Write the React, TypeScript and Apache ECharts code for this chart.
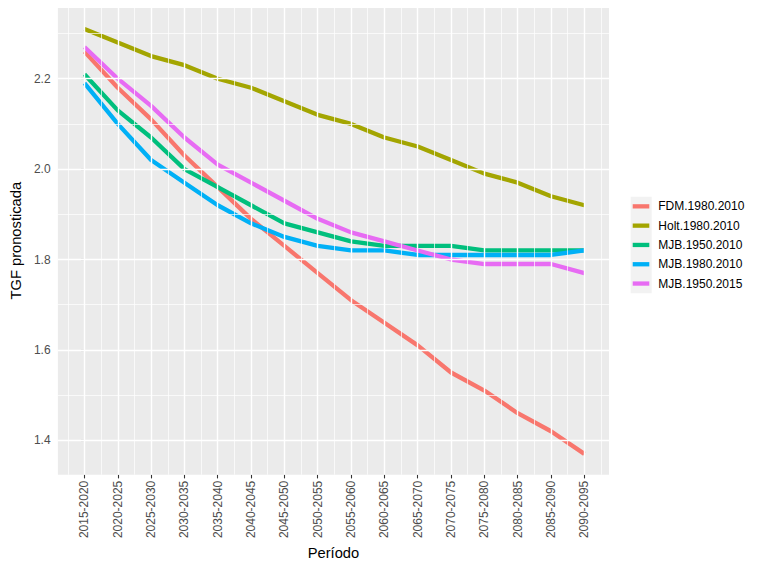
import React, { useEffect, useRef } from "react";
import * as echarts from "echarts";

const periods = [
  "2015-2020", "2020-2025", "2025-2030", "2030-2035", "2035-2040", "2040-2045",
  "2045-2050", "2050-2055", "2055-2060", "2060-2065", "2065-2070", "2070-2075",
  "2075-2080", "2080-2085", "2085-2090", "2090-2095",
];

const seriesNames = ["FDM.1980.2010", "Holt.1980.2010", "MJB.1950.2010", "MJB.1980.2010", "MJB.1950.2015"];
const seriesColors = ["#F8766D", "#A3A500", "#00BF7D", "#00B0F6", "#E76BF3"];

const fdm19802010 = [2.26, 2.18, 2.11, 2.03, 1.96, 1.89, 1.83, 1.77, 1.71, 1.66, 1.61, 1.55, 1.51, 1.46, 1.42, 1.37];
const holt19802010 = [2.31, 2.28, 2.25, 2.23, 2.20, 2.18, 2.15, 2.12, 2.10, 2.07, 2.05, 2.02, 1.99, 1.97, 1.94, 1.92];
const mjb19502010 = [2.21, 2.13, 2.07, 2.00, 1.96, 1.92, 1.88, 1.86, 1.84, 1.83, 1.83, 1.83, 1.82, 1.82, 1.82, 1.82];
const mjb19802010 = [2.19, 2.10, 2.02, 1.97, 1.92, 1.88, 1.85, 1.83, 1.82, 1.82, 1.81, 1.81, 1.81, 1.81, 1.81, 1.82];
const mjb19502015 = [2.27, 2.20, 2.14, 2.07, 2.01, 1.97, 1.93, 1.89, 1.86, 1.84, 1.82, 1.80, 1.79, 1.79, 1.79, 1.77];

const allValues = [fdm19802010, holt19802010, mjb19502010, mjb19802010, mjb19502015];

const yTicks = [1.4, 1.6, 1.8, 2.0, 2.2];
const yMinorGrid = [1.5, 1.7, 1.9, 2.1, 2.3];

const FONT = "'Liberation Sans', Arial, sans-serif";

export default function App() {
  const ref = useRef<HTMLDivElement>(null);

  useEffect(() => {
    if (!ref.current) return;
    const chart = echarts.init(ref.current, null, { renderer: "svg" });

    const xIdx = periods.map((_, i) => i);
    const xMinor = periods.slice(0, periods.length + 1).map((_, i) => i - 0.5).concat([periods.length - 0.5]);

    const gridLineSeries = {
      type: "line",
      data: [],
      z: 1,
      silent: true,
      markLine: {
        silent: true,
        symbol: ["none", "none"],
        label: { show: false },
        animation: false,
        data: [
          ...xMinor.map((v) => ({ xAxis: v, lineStyle: { color: "#FFFFFF", width: 0.7, type: "solid" } })),
          ...xIdx.map((v) => ({ xAxis: v, lineStyle: { color: "#FFFFFF", width: 1.4, type: "solid" } })),
          ...yMinorGrid.map((v) => ({ yAxis: v, lineStyle: { color: "#FFFFFF", width: 0.7, type: "solid" } })),
          ...yTicks.map((v) => ({ yAxis: v, lineStyle: { color: "#FFFFFF", width: 1.4, type: "solid" } })),
        ],
      },
    };

    const dataSeries = seriesNames.map((name, s) => ({
      name,
      type: "line",
      z: 3,
      data: allValues[s].map((v, i) => [i, v]),
      showSymbol: false,
      symbol: "none",
      lineStyle: { color: seriesColors[s], width: 4.3, cap: "butt", join: "round" },
      itemStyle: { color: seriesColors[s] },
    }));

    chart.setOption({
      animation: false,
      textStyle: { fontFamily: FONT },
      grid: {
        left: 49,
        right: 151,
        top: 6.7,
        bottom: 93.3,
        show: true,
        backgroundColor: "#EBEBEB",
        borderWidth: 0,
      },
      graphic: [
        {
          type: "rect",
          shape: { x: 630.7, y: 196.7, width: 21, height: 96.5 },
          style: { fill: "#F2F2F2" },
          z: 0,
        },
      ],
      legend: {
        orient: "vertical",
        left: 632.7,
        top: 196.7,
        padding: 0,
        itemGap: 0,
        itemWidth: 16.6,
        itemHeight: 4.3,
        icon: "rect",
        data: seriesNames.map((n) => ({ name: n, icon: "rect" })),
        textStyle: {
          fontFamily: FONT,
          fontSize: 12,
          color: "#000000",
          lineHeight: 19.3,
          padding: [0, 0, 0, 4],
        },
      },
      xAxis: {
        type: "value",
        min: -0.797,
        max: 15.74,
        name: "Período",
        nameLocation: "middle",
        nameGap: 67,
        nameTextStyle: { fontFamily: FONT, fontSize: 14.7, color: "#000000" },
        axisLine: { show: false },
        splitLine: { show: false },
        axisTick: {
          show: true,
          customValues: xIdx,
          length: 3.7,
          lineStyle: { color: "#333333", width: 1.1 },
        },
        axisLabel: {
          customValues: xIdx,
          rotate: 90,
          margin: 6,
          fontFamily: FONT,
          fontSize: 12,
          color: "#4D4D4D",
          formatter: (v: number) => periods[Math.round(v)] ?? "",
        },
      },
      yAxis: {
        type: "value",
        min: 1.3239,
        max: 2.3593,
        name: "TGF pronosticada",
        nameLocation: "middle",
        nameGap: 28,
        nameTextStyle: { fontFamily: FONT, fontSize: 14.7, color: "#000000" },
        axisLine: { show: false },
        splitLine: { show: false },
        axisTick: {
          show: true,
          customValues: yTicks,
          length: 3.7,
          lineStyle: { color: "#333333", width: 1.1 },
        },
        axisLabel: {
          customValues: yTicks,
          margin: 7.3,
          fontFamily: FONT,
          fontSize: 12,
          color: "#4D4D4D",
          formatter: (v: number) => v.toFixed(1),
        },
      },
      series: [gridLineSeries, ...dataSeries],
    });

    return () => chart.dispose();
  }, []);

  return <div ref={ref} style={{ width: 760, height: 568, marginLeft: -8, marginTop: -8 }} />;
}
